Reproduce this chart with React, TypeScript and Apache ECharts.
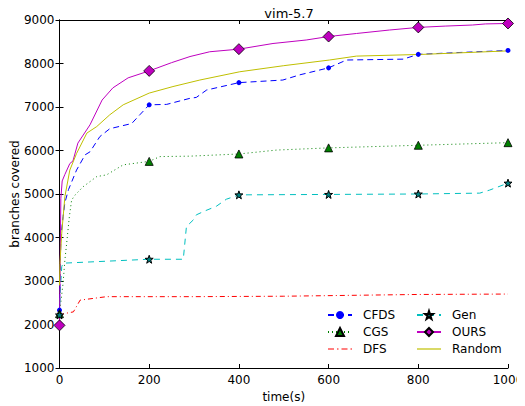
import React, { useEffect, useRef } from "react";
import * as echarts from "echarts";

const markerXs = [0, 200, 400, 600, 800, 1000];

const cfdsX = [0, 3, 8, 12, 20, 38, 57, 68, 90, 112, 161, 179, 200, 239, 291, 305, 328, 400, 498, 536, 600, 640, 766, 800, 885, 1000];
const cfdsY = [2330, 4000, 4480, 4800, 5100, 5550, 5900, 5970, 6320, 6500, 6620, 6820, 7050, 7060, 7200, 7220, 7390, 7560, 7620, 7740, 7900, 8080, 8100, 8210, 8250, 8300];

const cgsX = [0, 8, 12, 16, 22, 27, 35, 53, 83, 105, 142, 200, 224, 291, 400, 484, 600, 800, 1000];
const cgsY = [2250, 2950, 3480, 3870, 4480, 4860, 4980, 5170, 5400, 5440, 5670, 5750, 5860, 5870, 5920, 6010, 6060, 6120, 6180];

const dfsX = [0, 10, 31, 46, 68, 105, 300, 500, 795, 1000];
const dfsY = [2200, 2250, 2290, 2560, 2590, 2640, 2640, 2650, 2690, 2700];

const genX = [0, 2, 5, 8, 30, 200, 276, 283, 298, 305, 324, 350, 372, 400, 600, 800, 937, 959, 1000];
const genY = [2220, 2800, 3330, 3410, 3420, 3500, 3500, 4250, 4400, 4520, 4610, 4720, 4880, 4980, 4990, 5000, 5020, 5090, 5250];

const oursX = [0, 3, 6, 12, 23, 30, 41, 68, 95, 119, 153, 200, 250, 291, 335, 400, 476, 550, 600, 662, 736, 800, 860, 921, 950, 1000];
const oursY = [1980, 4900, 5300, 5450, 5700, 5760, 6170, 6590, 7160, 7440, 7670, 7830, 8020, 8160, 8270, 8330, 8460, 8540, 8620, 8690, 8770, 8830, 8860, 8885, 8910, 8920];

const randomX = [0, 1, 5, 12, 23, 38, 61, 83, 112, 142, 200, 253, 313, 402, 500, 602, 662, 810, 1000];
const randomY = [2900, 3400, 4100, 4940, 5550, 5930, 6400, 6550, 6820, 7050, 7320, 7470, 7620, 7810, 7950, 8080, 8170, 8210, 8290];

const FONT = "DejaVu Sans";

function pairs(xs: number[], ys: number[]) {
  return xs.map((x, i) => [x, ys[i]]);
}

function markerSize(size: number) {
  return (val: number[]) => (markerXs.includes(val[0]) ? size : 0);
}

const DASHDOT_ICON = "path://M0,0h6v1.2h-6z M9,0h1.5v1.2h-1.5z M13.5,0h6v1.2h-6z M22.5,0h1.5v1.2h-1.5z";
const SOLID_ICON = "path://M0,0h24v1.2h-24z";

export default function App() {
  const ref = useRef<HTMLDivElement>(null);
  useEffect(() => {
    if (!ref.current) return;
    const chart = echarts.init(ref.current, undefined, { renderer: "svg" });
    const axisLine = { show: true, lineStyle: { color: "#000", width: 1 } };
    const tick = { show: true, inside: true, length: 4, lineStyle: { color: "#000" } };
    const label = { color: "#000", fontFamily: FONT, fontSize: 12 };
    const legendText = { fontFamily: FONT, fontSize: 12, color: "#000", padding: [0, 0, 0, 6] };
    const base = {
      type: "line",
      xAxisIndex: 0,
      yAxisIndex: 0,
      showAllSymbol: true,
      z: 3,
    };
    chart.setOption({
      animation: false,
      backgroundColor: "#fff",
      title: {
        text: "vim-5.7",
        left: 284,
        textAlign: "center",
        top: 2,
        textStyle: { fontFamily: FONT, fontSize: 13, fontWeight: "normal", color: "#000" },
      },
      grid: { left: 59.5, right: 17, top: 20, bottom: 38, containLabel: false, outerBoundsMode: "none" },
      graphic: [
        {
          type: "text",
          x: 15,
          y: 194,
          rotation: Math.PI / 2,
          style: {
            text: "branches covered",
            fontFamily: FONT,
            fontSize: 12,
            fill: "#000",
            textAlign: "center",
            textVerticalAlign: "middle",
          },
        },
      ],
      xAxis: [
        {
          type: "value",
          min: 0,
          max: 1000,
          interval: 200,
          name: "time(s)",
          nameLocation: "middle",
          nameGap: 22,
          nameTextStyle: { fontFamily: FONT, fontSize: 12, color: "#000" },
          axisLine,
          axisTick: tick,
          axisLabel: { ...label, margin: 6, formatter: (v: number) => String(v) },
          splitLine: { show: false },
        },
        {
          type: "value",
          position: "top",
          min: 0,
          max: 1000,
          interval: 200,
          axisLine,
          axisTick: tick,
          axisLabel: { show: false },
          splitLine: { show: false },
        },
      ],
      yAxis: [
        {
          type: "value",
          min: 1000,
          max: 9000,
          interval: 1000,
          axisLine,
          axisTick: tick,
          axisLabel: { ...label, margin: 5, formatter: (v: number) => String(v) },
          splitLine: { show: false },
        },
        {
          type: "value",
          position: "right",
          min: 1000,
          max: 9000,
          interval: 1000,
          axisLine,
          axisTick: tick,
          axisLabel: { show: false },
          splitLine: { show: false },
        },
      ],
      legend: [
        {
          data: ["CFDS", "CGS", { name: "DFS", icon: DASHDOT_ICON }],
          orient: "vertical",
          left: 327,
          top: 309,
          padding: 0,
          itemGap: 5,
          itemWidth: 24,
          itemHeight: 10,
          textStyle: legendText,
        },
        {
          data: ["Gen", "OURS", { name: "Random", icon: SOLID_ICON }],
          orient: "vertical",
          left: 416,
          top: 309,
          padding: 0,
          itemGap: 5,
          itemWidth: 24,
          itemHeight: 10,
          textStyle: legendText,
        },
      ],
      series: [
        {
          ...base,
          name: "CFDS",
          data: pairs(cfdsX, cfdsY),
          color: "#0000ff",
          symbol: "circle",
          symbolSize: markerSize(5),
          lineStyle: { color: "#0000ff", width: 1, type: [6, 4] },
          itemStyle: { color: "#0000ff", borderWidth: 0 },
        },
        {
          ...base,
          name: "CGS",
          data: pairs(cgsX, cgsY),
          color: "#008000",
          symbol: "triangle",
          symbolSize: markerSize(8),
          lineStyle: { color: "#008000", width: 1, type: [1, 3] },
          itemStyle: { color: "#008000", borderColor: "#000", borderWidth: 0.8 },
        },
        {
          ...base,
          name: "DFS",
          data: pairs(dfsX, dfsY),
          color: "#ff0000",
          symbol: "none",
          lineStyle: { color: "#ff0000", width: 1, type: [5, 3, 1, 3] },
        },
        {
          ...base,
          name: "Gen",
          data: pairs(genX, genY),
          color: "#00bfbf",
          symbol: "path://M0,-10 L2.35,-3.24 L9.51,-3.09 L3.8,1.24 L5.88,8.09 L0,4 L-5.88,8.09 L-3.8,1.24 L-9.51,-3.09 L-2.35,-3.24 Z",
          symbolSize: markerSize(8),
          lineStyle: { color: "#00bfbf", width: 1, type: [6, 5] },
          itemStyle: { color: "#007f7f", borderColor: "#000", borderWidth: 1 },
        },
        {
          ...base,
          name: "OURS",
          data: pairs(oursX, oursY),
          color: "#bf00bf",
          symbol: "diamond",
          symbolSize: markerSize(11),
          lineStyle: { color: "#bf00bf", width: 1, type: "solid" },
          itemStyle: { color: "#bf00bf", borderColor: "#000", borderWidth: 0.8 },
        },
        {
          ...base,
          name: "Random",
          data: pairs(randomX, randomY),
          color: "#bfbf00",
          symbol: "none",
          lineStyle: { color: "#bfbf00", width: 1, type: "solid" },
        },
      ],
    });
    return () => chart.dispose();
  }, []);
  return <div ref={ref} style={{ width: 525, height: 406, marginLeft: -8, marginTop: -8 }} />;
}
